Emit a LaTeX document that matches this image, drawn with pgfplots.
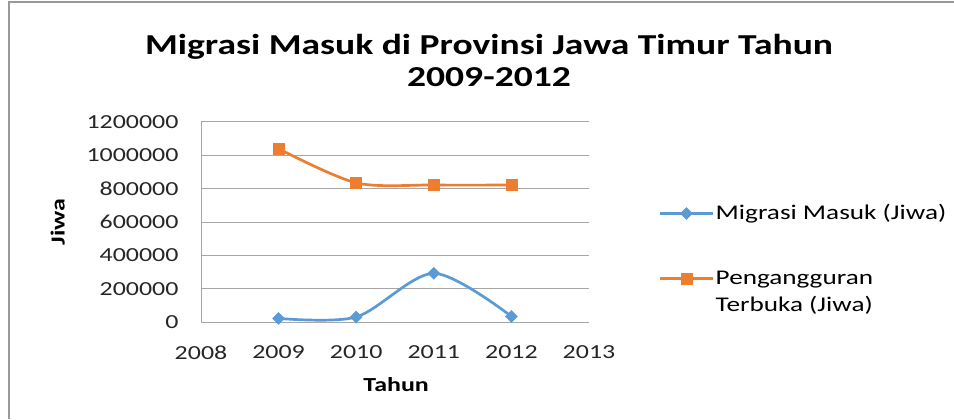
\documentclass[border=0pt]{standalone}
\usepackage{fontspec}
\setmainfont{Carlito}[FakeStretch=1.3]
\usepackage{pgfplots}
\pgfplotsset{compat=1.18}
\definecolor{cblue}{HTML}{5B9BD5}
\definecolor{corange}{HTML}{ED7D31}
\definecolor{gridc}{HTML}{A6A6A6}
\begin{document}
\begin{tikzpicture}[x=1bp,y=1bp]
\useasboundingbox (0,0) rectangle (954,419);
\draw[gray!80, line width=1.2bp] (9,0) -- (9,417) -- (954,417);
\node[font=\fontsize{29}{34}\selectfont\bfseries] at (489,372) {Migrasi Masuk di Provinsi Jawa Timur Tahun};
\node[font=\fontsize{29}{34}\selectfont\bfseries] at (489,342) {2009-2012};
\begin{axis}[
  at={(201bp,97bp)}, anchor=south west,
  scale only axis, width=388bp, height=200bp,
  xmin=2008, xmax=2013, ymin=0, ymax=1200000,
  xtick={2008,2009,2010,2011,2012,2013},
  ytick={0,200000,400000,600000,800000,1000000,1200000},
  scaled y ticks=false, scaled x ticks=false,
  /pgf/number format/fixed,
  /pgf/number format/1000 sep={},
  /pgf/number format/assume math mode=true,
  tick label style={font=\fontsize{20}{22}\selectfont, color=black!85},
  xticklabel style={yshift=-20bp},
  yticklabel style={xshift=-19bp},
  major tick length=0pt,
  axis lines=left,
  axis line style={draw=gridc, line width=1bp, -},
  ymajorgrids, grid style={draw=gridc, line width=1bp},
  xlabel={Tahun}, ylabel={Jiwa},
  label style={font=\fontsize{20}{24}\selectfont\bfseries},
  xlabel style={at={(axis description cs:0.503,-0.315)}, anchor=center},
  ylabel style={at={(axis description cs:-0.369,0.5)}, anchor=center},
  legend cell align=left,
  legend style={at={(axis description cs:1.18,0.6)}, anchor=north west, draw=none, fill=none,
     font=\fontsize{21}{27}\selectfont, row sep=41bp, inner sep=0pt,
     cells={anchor=base west}},
  legend image code/.code={\draw[#1, mark repeat=2, mark phase=2, yshift=6bp] plot coordinates {(0bp,0bp) (26bp,0bp) (52bp,0bp)};},
  clip=false,
]
\addplot[color=cblue, line width=2.7bp, smooth, tension=0.5, mark=square*, mark size=4.2bp, mark options={fill=cblue, line width=0.5bp, rotate=45}]
  coordinates {(2009,21600) (2010,30000) (2011,292000) (2012,33600)};
\addlegendentry{Migrasi Masuk (Jiwa)}
\addplot[color=corange, line width=2.7bp, smooth, tension=0.5, mark=square*, mark size=5.5bp, mark options={fill=corange, line width=0.5bp}]
  coordinates {(2009,1040000) (2010,835000) (2011,822000) (2012,822000)};
\addlegendentry{\begin{tabular}[t]{@{}l@{}}Pengangguran\\Terbuka (Jiwa)\end{tabular}}
\end{axis}
\end{tikzpicture}
\end{document}
